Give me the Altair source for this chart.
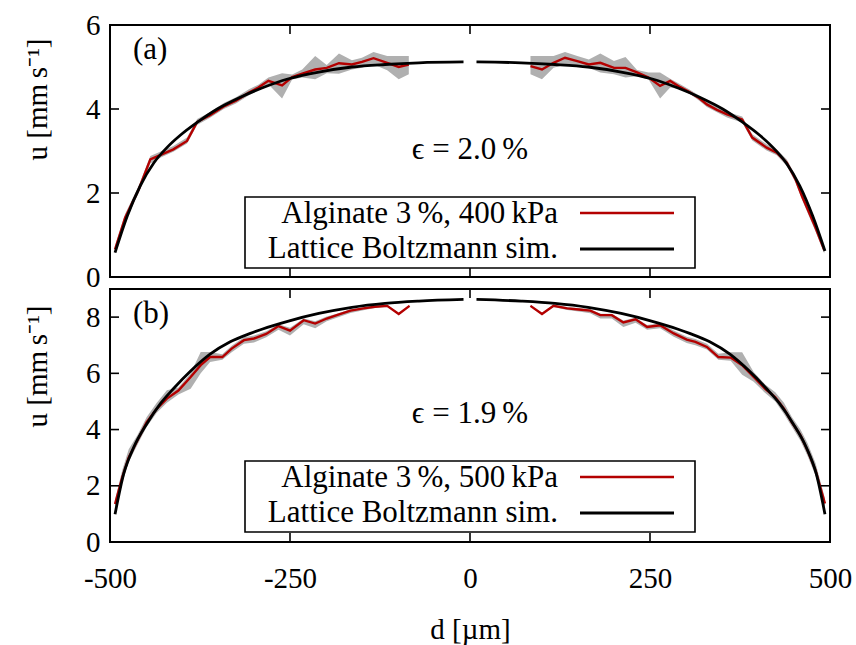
import altair as alt
import pandas as pd

FONT = "Liberation Serif"
RED = "#b40000"
GRAY = "#b0b0b0"
FS = 29
LFS = 31

x_ticks = [-500, -250, 0, 250, 500]
ya_ticks = [0, 2, 4, 6]
yb_ticks = [0, 2, 4, 6, 8]

# ---------------- panel (a) ----------------
a_exp_d = [-493, -479, -460, -444, -428, -412, -393, -379, -361, -342, -325, -307, -294, -280,
           -261, -247, -233, -215, -199, -182, -164, -150, -134, -115, -99, -85,
           84, 100, 116, 132, 149, 165, 181, 200, 216, 232, 248, 264, 278, 292, 306, 318,
           329, 343, 357, 378, 392, 412, 426, 440, 452, 461, 470, 480, 492]
a_exp_u = [0.66, 1.41, 2.09, 2.80, 2.92, 3.04, 3.24, 3.69, 3.85, 4.06, 4.20, 4.39, 4.51, 4.67,
           4.56, 4.76, 4.84, 4.94, 4.98, 5.09, 5.06, 5.12, 5.21, 5.10, 5.00, 5.06,
           5.02, 4.94, 5.10, 5.22, 5.14, 5.06, 5.10, 4.98, 4.98, 4.87, 4.75, 4.55, 4.67, 4.52, 4.39, 4.26,
           4.11, 3.98, 3.87, 3.75, 3.32, 3.08, 2.96, 2.72, 2.33, 1.93, 1.57, 1.17, 0.64]
a_exp_lo = [0.58, 1.32, 2.00, 2.70, 2.86, 2.98, 3.18, 3.62, 3.79, 4.00, 4.13, 4.33, 4.45, 4.59,
            4.25, 4.70, 4.75, 4.71, 4.85, 4.84, 4.94, 4.98, 5.06, 4.92, 4.71, 4.83,
            4.83, 4.71, 4.98, 5.06, 5.02, 4.98, 4.87, 4.83, 4.75, 4.78, 4.70, 4.25, 4.51, 4.47, 4.35, 4.20,
            4.05, 3.92, 3.80, 3.68, 3.25, 3.01, 2.90, 2.64, 2.25, 1.85, 1.48, 1.08, 0.56]
a_exp_hi = [0.74, 1.50, 2.18, 2.88, 3.00, 3.12, 3.32, 3.76, 3.92, 4.14, 4.28, 4.47, 4.58, 4.75,
            4.85, 4.82, 4.94, 5.26, 5.05, 5.32, 5.16, 5.22, 5.36, 5.26, 5.26, 5.26,
            5.26, 5.26, 5.26, 5.36, 5.26, 5.18, 5.32, 5.14, 5.24, 4.93, 4.87, 4.87, 4.72, 4.59, 4.45, 4.32,
            4.18, 4.05, 3.93, 3.82, 3.40, 3.16, 3.04, 2.80, 2.42, 2.02, 1.66, 1.26, 0.72]
a_sim_d = [-493, -476, -458, -439, -421, -402, -379, -351, -319, -289, -252, -210, -164, -118, -71, -9,
           9, 71, 118, 164, 210, 252, 289, 319, 351, 379, 402, 421, 439, 458, 476, 493]
a_sim_u = [0.58, 1.45, 2.17, 2.72, 3.08, 3.38, 3.68, 4.00, 4.28, 4.50, 4.72, 4.88, 5.00, 5.06, 5.10, 5.12,
           5.12, 5.10, 5.06, 5.00, 4.88, 4.72, 4.50, 4.28, 4.00, 3.68, 3.38, 3.08, 2.72, 2.17, 1.45, 0.62]

# ---------------- panel (b) ----------------
b_exp_d = [-493, -483, -474, -462, -449, -435, -421, -405, -388, -374, -361, -344, -331, -314,
           -300, -283, -266, -250, -231, -215, -199, -185, -166, -148, -132, -115, -99, -84,
           84, 100, 116, 135, 151, 167, 181, 197, 213, 230, 246, 264, 283, 301, 313, 329,
           345, 362, 378, 394, 410, 424, 436, 447, 459, 469, 480, 493]
b_exp_u = [1.35, 2.30, 3.01, 3.61, 4.26, 4.74, 5.10, 5.39, 5.87, 6.29, 6.58, 6.58, 6.88, 7.18,
           7.24, 7.40, 7.68, 7.52, 7.89, 7.77, 7.95, 8.07, 8.23, 8.31, 8.37, 8.40, 8.11, 8.40,
           8.40, 8.11, 8.40, 8.31, 8.27, 8.23, 8.07, 8.07, 7.81, 7.92, 7.65, 7.71, 7.42, 7.20, 7.12, 6.94,
           6.58, 6.56, 6.29, 5.87, 5.45, 5.15, 4.74, 4.26, 3.79, 3.25, 2.54, 1.37]
b_exp_lo = [1.20, 2.10, 2.85, 3.45, 4.10, 4.60, 4.95, 5.25, 5.45, 6.00, 6.40, 6.48, 6.75, 7.05,
            7.10, 7.28, 7.55, 7.35, 7.75, 7.60, 7.85, 7.98, 8.15, 8.24, 8.32, 8.36, 8.08, 8.37,
            8.37, 8.08, 8.36, 8.25, 8.20, 8.14, 7.95, 7.95, 7.65, 7.80, 7.55, 7.60, 7.30, 7.08, 7.00, 6.85,
            6.48, 6.45, 5.95, 5.70, 5.30, 5.00, 4.55, 4.10, 3.60, 3.05, 2.35, 1.20]
b_exp_hi = [1.50, 2.55, 3.30, 3.80, 4.45, 4.95, 5.40, 5.50, 6.00, 6.76, 6.76, 6.68, 6.98, 7.28,
            7.35, 7.50, 7.75, 7.62, 7.95, 7.85, 8.02, 8.12, 8.28, 8.35, 8.41, 8.44, 8.15, 8.43,
            8.43, 8.15, 8.44, 8.36, 8.32, 8.28, 8.12, 8.12, 7.88, 7.98, 7.72, 7.78, 7.52, 7.30, 7.22, 7.05,
            6.70, 6.75, 6.75, 6.05, 5.60, 5.33, 4.95, 4.45, 4.00, 3.50, 2.80, 1.55]
b_sim_d = [-493, -481, -467, -449, -430, -412, -388, -361, -333, -305, -289, -252, -210, -164, -118, -71, -9,
           9, 71, 118, 164, 210, 252, 289, 305, 333, 361, 388, 412, 430, 449, 467, 481, 493]
b_sim_u = [0.99, 2.42, 3.37, 4.20, 4.92, 5.45, 6.08, 6.68, 7.12, 7.42, 7.57, 7.86, 8.13, 8.35, 8.49, 8.57, 8.63,
           8.63, 8.57, 8.49, 8.35, 8.13, 7.86, 7.57, 7.42, 7.12, 6.68, 6.08, 5.45, 4.92, 4.20, 3.37, 2.42, 0.99]

legend_a = ["Alginate 3\u2009%, 400\u2009kPa", "Lattice Boltzmann sim."]
legend_b = ["Alginate 3\u2009%, 500\u2009kPa", "Lattice Boltzmann sim."]

W = 720


def panel(exp_d, exp_u, exp_lo, exp_hi, sim_d, sim_u, ymax, yticks, H,
          tag, eps, legend, show_x, title_y):
    exp_df = pd.DataFrame({"d": exp_d, "u": exp_u, "lo": exp_lo, "hi": exp_hi})
    exp_df["side"] = ["L" if v < 0 else "R" for v in exp_df["d"]]
    sim_df = pd.DataFrame({"d": sim_d, "u": sim_u})
    sim_df["side"] = ["L" if v < 0 else "R" for v in sim_df["d"]]

    xs = alt.Scale(domain=[-500, 500], nice=False, zero=False)
    ys = alt.Scale(domain=[0, ymax], nice=False, zero=False)
    if show_x:
        xaxis = alt.Axis(values=x_ticks, ticks=False, tickSize=0, domain=False, grid=False,
                         labelPadding=36, labelBaseline="middle", labelExpr="datum.value",
                         labelFlush=False, labelOverlap=False, labelBound=False,
                         labelFont=FONT, labelFontSize=FS, labelColor="black",
                         title="d [µm]", titleX=360, titleY=87, titleBaseline="middle",
                         titleAlign="center", titleFont=FONT, titleFontSize=FS,
                         titleFontWeight="normal", titleColor="black")
    else:
        xaxis = None
    yaxis = alt.Axis(values=yticks, ticks=False, tickSize=0, domain=False, grid=False,
                     labelPadding=10, labelFont=FONT, labelFontSize=FS, labelColor="black",
                     labelFlush=False, labelOverlap=False,
                     title="u [mm\u2009s⁻¹]", titleX=-73, titleY=title_y,
                     titleAngle=270, titleAlign="center", titleBaseline="middle",
                     titleFont=FONT, titleFontSize=FS, titleFontWeight="normal", titleColor="black")

    def X(f):
        return alt.X(f, scale=xs, axis=xaxis)

    def Y(f):
        return alt.Y(f, scale=ys, axis=yaxis)

    band = alt.Chart(exp_df).mark_area(color=GRAY, opacity=1).encode(
        x=X("d:Q"), y=Y("lo:Q"), y2="hi:Q", detail="side:N")
    red = alt.Chart(exp_df).mark_line(color=RED, strokeWidth=2.4).encode(
        x=X("d:Q"), y=Y("u:Q"), detail="side:N")
    black = alt.Chart(sim_df).mark_line(color="black", strokeWidth=2.8, interpolate="monotone").encode(
        x=X("d:Q"), y=Y("u:Q"), detail="side:N")

    xt = pd.DataFrame({"v": x_ticks})
    yt = pd.DataFrame({"v": yticks})
    tl = 9
    tick_b = alt.Chart(xt).mark_rule(color="black", strokeWidth=1.6).encode(
        x=X("v:Q"), y=alt.value(H), y2=alt.value(H - tl))
    tick_t = alt.Chart(xt).mark_rule(color="black", strokeWidth=1.6).encode(
        x=X("v:Q"), y=alt.value(0), y2=alt.value(tl))
    tick_l = alt.Chart(yt).mark_rule(color="black", strokeWidth=1.6).encode(
        y=Y("v:Q"), x=alt.value(0), x2=alt.value(tl))
    tick_r = alt.Chart(yt).mark_rule(color="black", strokeWidth=1.6).encode(
        y=Y("v:Q"), x=alt.value(W - tl), x2=alt.value(W))

    one = pd.DataFrame({"t": [tag]})
    box = alt.Chart(one).mark_rect(fill="white", stroke="black", strokeWidth=1.6).encode(
        x=alt.value(135), x2=alt.value(585), y=alt.value(172), y2=alt.value(243))
    leg_line_r = alt.Chart(one).mark_rule(color=RED, strokeWidth=2.6).encode(
        x=alt.value(470), x2=alt.value(564), y=alt.value(188))
    leg_line_k = alt.Chart(one).mark_rule(color="black", strokeWidth=2.8).encode(
        x=alt.value(470), x2=alt.value(564), y=alt.value(224))
    leg_t1 = alt.Chart(pd.DataFrame({"t": [legend[0]]})).mark_text(
        align="right", baseline="alphabetic", fontSize=LFS, font=FONT, color="black").encode(
        x=alt.value(448), y=alt.value(198), text="t:N")
    leg_t2 = alt.Chart(pd.DataFrame({"t": [legend[1]]})).mark_text(
        align="right", baseline="alphabetic", fontSize=LFS, font=FONT, color="black").encode(
        x=alt.value(448), y=alt.value(233), text="t:N")
    tag_t = alt.Chart(one).mark_text(
        align="left", baseline="alphabetic", fontSize=LFS, font=FONT, color="black").encode(
        x=alt.value(23), y=alt.value(34), text="t:N")
    eps_t = alt.Chart(pd.DataFrame({"t": [eps]})).mark_text(
        align="center", baseline="alphabetic", fontSize=LFS, font=FONT, color="black").encode(
        x=alt.value(360), y=alt.value(134), text="t:N")

    return alt.layer(band, red, black, tick_b, tick_t, tick_l, tick_r,
                     box, leg_line_r, leg_line_k, leg_t1, leg_t2, tag_t, eps_t).properties(
        width=W, height=H)


top = panel(a_exp_d, a_exp_u, a_exp_lo, a_exp_hi, a_sim_d, a_sim_u, 6, ya_ticks, 252,
            "(a)", "ϵ = 2.0\u2009%", legend_a, False, 74)
bottom = panel(b_exp_d, b_exp_u, b_exp_lo, b_exp_hi, b_sim_d, b_sim_u, 9, yb_ticks, 253,
               "(b)", "ϵ = 1.9\u2009%", legend_b, True, 77)

chart = alt.vconcat(top, bottom, spacing=12, bounds="flush").properties(
    padding={"left": 22, "top": 10, "right": 0, "bottom": 0},
    background="white"
).configure_view(stroke="black", strokeWidth=2).configure_axis(
    labelFont=FONT, titleFont=FONT, labelFontSize=FS, titleFontSize=FS,
    labelColor="black", titleColor="black", titleFontWeight="normal"
)

chart.save("out.html", embed_options={"renderer": "svg", "actions": False})
